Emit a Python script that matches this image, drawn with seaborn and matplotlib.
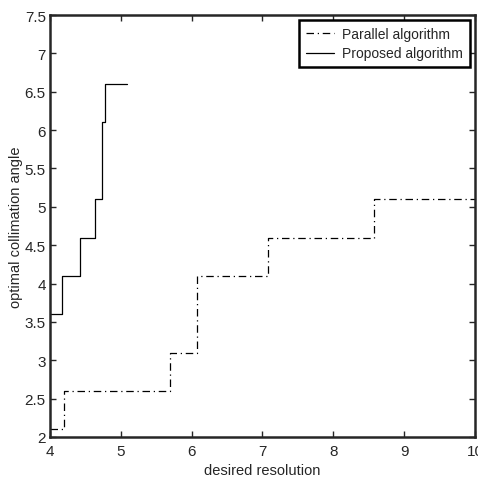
import numpy as np
import pandas as pd
import matplotlib
matplotlib.use("Agg")
import matplotlib.pyplot as plt
import seaborn as sns

# step data
par_x = [4.0, 4.2, 5.69, 6.07, 7.08, 8.57, 10.0]
par_y = [2.1, 2.6, 3.1, 4.1, 4.6, 5.1, 5.1]
prop_x = [4.0, 4.17, 4.42, 4.63, 4.73, 4.77, 5.09]
prop_y = [3.6, 4.1, 4.6, 5.1, 6.1, 6.6, 6.6]

x_ticks = [4, 5, 6, 7, 8, 9, 10]
y_ticks = [2, 2.5, 3, 3.5, 4, 4.5, 5, 5.5, 6, 6.5, 7, 7.5]

sns.set_style("ticks")
plt.rcParams["font.family"] = ["Liberation Sans", "DejaVu Sans"]
plt.rcParams["xtick.direction"] = "in"
plt.rcParams["ytick.direction"] = "in"

fig = plt.figure(figsize=(4.78, 4.81), dpi=100)
ax = fig.add_axes([0.1046, 0.0894, 0.889, 0.8773])

df_par = pd.DataFrame({"x": par_x, "y": par_y})
df_prop = pd.DataFrame({"x": prop_x, "y": prop_y})
sns.lineplot(data=df_par, x="x", y="y", ax=ax, color="black", lw=0.9,
             linestyle=(0, (6, 3, 1, 3)), drawstyle="steps-post",
             label="Parallel algorithm")
sns.lineplot(data=df_prop, x="x", y="y", ax=ax, color="black", lw=0.9,
             linestyle="-", drawstyle="steps-post", label="Proposed algorithm")

ax.set_xlim(4, 10)
ax.set_ylim(2, 7.5)
ax.set_xticks(x_ticks)
ax.set_xticklabels([str(t) for t in x_ticks])
ax.set_yticks(y_ticks)
ax.set_yticklabels([("%g" % t) for t in y_ticks])
ax.tick_params(top=True, right=True, length=4, width=1, labelsize=11)
ax.tick_params(axis="x", pad=5)
ax.tick_params(axis="y", pad=3)
for s in ax.spines.values():
    s.set_linewidth(1.8)
ax.set_xlabel("desired resolution", fontsize=10.5, labelpad=4)
ax.set_ylabel("optimal collimation angle", fontsize=10.5, labelpad=1)

leg = ax.legend(loc="upper right", fontsize=10, frameon=True, fancybox=False,
                borderaxespad=0.35, handlelength=2.0, borderpad=0.5,
                labelspacing=0.4, handletextpad=0.6)
leg.get_frame().set_edgecolor("black")
leg.get_frame().set_linewidth(1.8)
leg.get_frame().set_alpha(1)

fig.savefig("out.png", dpi=100)
